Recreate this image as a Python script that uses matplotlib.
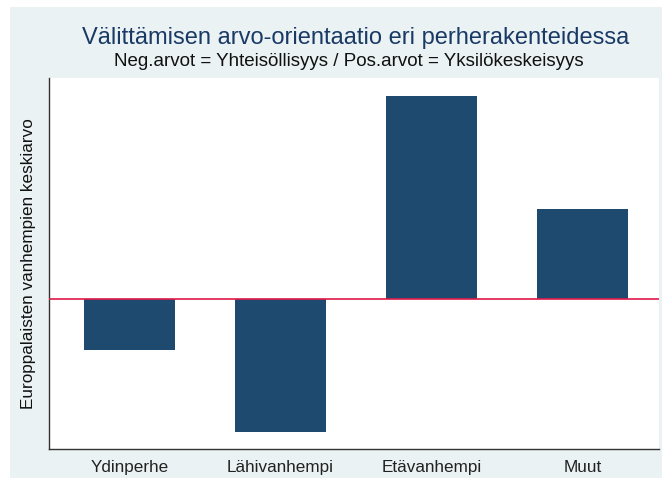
import matplotlib
matplotlib.use("Agg")
import matplotlib.pyplot as plt

# ── Data ─────────────────────────────────────────────────────────────────────
categories = ["Ydinperhe", "Lähivanhempi", "Etävanhempi", "Muut"]
values = [-0.100, -0.258, 0.390, 0.173]

title = "Välittämisen arvo-orientaatio eri perherakenteidessa"
subtitle = "Neg.arvot = Yhteisöllisyys / Pos.arvot = Yksilökeskeisyys"
ylabel = "Europpalaisten vanhempien keskiarvo"

BG = "#eaf2f3"
BAR = "#1f4a70"
TITLE_C = "#1a3a66"
LINE_C = "#e0194a"

plt.rcParams["font.family"] = ["Liberation Sans", "DejaVu Sans"]

W, H = 667, 486
fig = plt.figure(figsize=(W / 100, H / 100), dpi=100)
fig.patch.set_facecolor("white")

# light outer panel (background axes)
bg = fig.add_axes([10 / W, 1 - 478 / H, (662 - 10) / W, (478 - 7) / H], zorder=-1)
bg.set_facecolor(BG)
bg.set_xticks([])
bg.set_yticks([])
for s in bg.spines.values():
    s.set_visible(False)

ax = fig.add_axes([49 / W, 1 - 449 / H, (659 - 49) / W, (449 - 78) / H], zorder=1)
ax.set_facecolor("white")

x = list(range(len(categories)))
ax.bar(x, values, width=0.6, color=BAR, zorder=2)
ax.axhline(0, color=LINE_C, linewidth=1.2, zorder=3)

ax.set_xlim(-0.534, 3.507)
ax.set_ylim(-0.29, 0.425)
ax.set_xticks(x)
ax.set_xticklabels(categories, fontsize=12.3, color="#222222")
ax.tick_params(axis="x", length=0, pad=8)
ax.set_yticks([])
ax.set_ylabel(ylabel, fontsize=12.3, color="#111111", labelpad=9)

for s in ["top", "right"]:
    ax.spines[s].set_visible(False)
for s in ["left", "bottom"]:
    ax.spines[s].set_color("#333333")
    ax.spines[s].set_linewidth(1.0)

fig.text(356 / W, 1 - 38 / H, title, fontsize=17, color=TITLE_C,
         ha="center", va="center")
fig.text(349 / W, 1 - 62 / H, subtitle, fontsize=13.5, color="#111111",
         ha="center", va="center")

plt.savefig("out.png", dpi=100, facecolor="white")
